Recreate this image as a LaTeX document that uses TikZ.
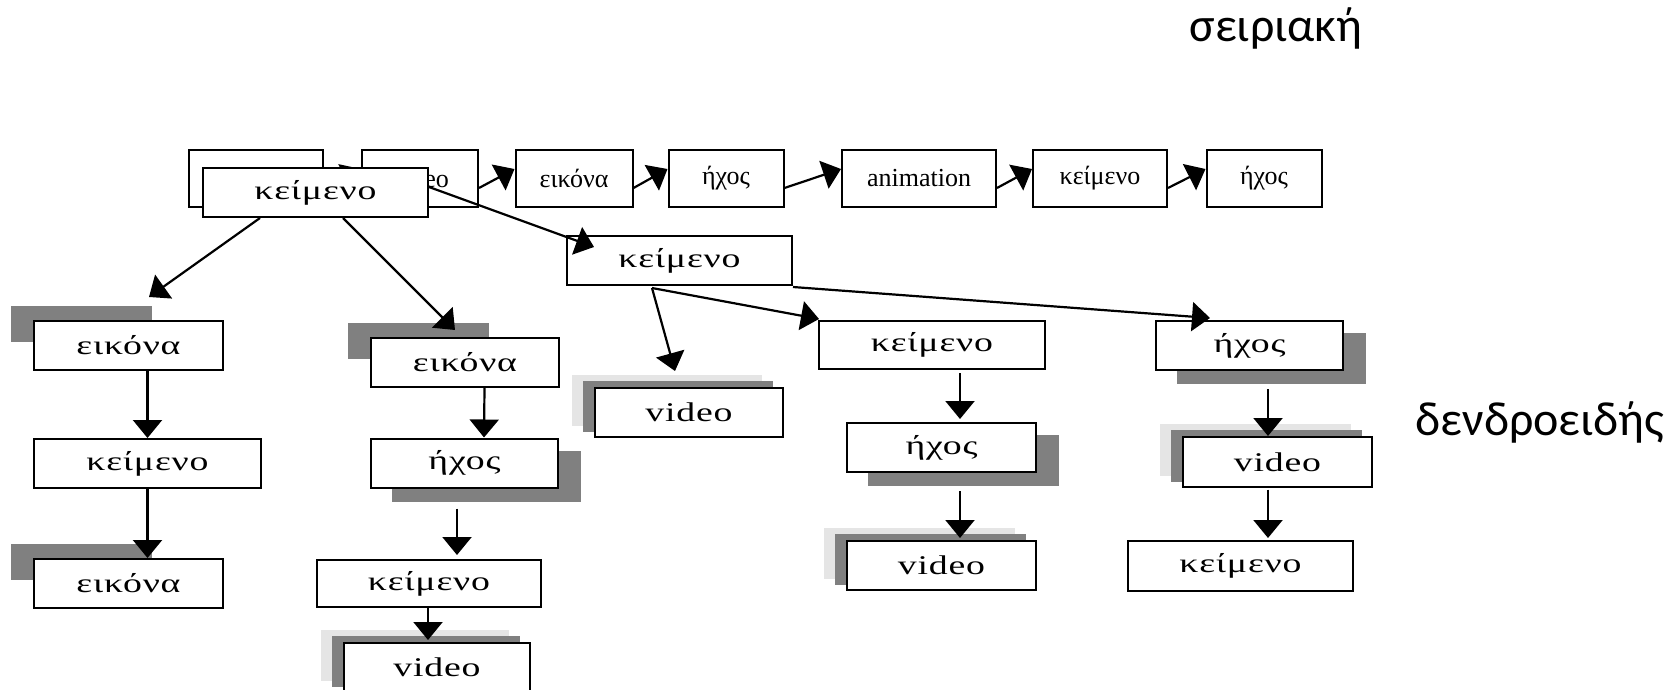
\documentclass[tikz,border=0pt]{standalone}
\usepackage{fontspec}
\setmainfont{Liberation Serif}
\newfontfamily\treefont[FakeStretch=1.4,LetterSpace=3]{Liberation Serif}
\newfontfamily\labelfont{Carlito}
\usetikzlibrary{arrows.meta,backgrounds,calc}

\begin{document}
\begin{tikzpicture}[x=1pt,y=-1pt,
  box/.style={draw=black, line width=2pt, fill=white, inner sep=0pt, minimum height=49pt},
  serialbox/.style={box, minimum height=57pt, font=\fontsize{26}{30}\selectfont},
  treebox/.style={box, font=\treefont\fontsize{27}{32}\selectfont},
  arr/.style={line width=2.2pt, -{Triangle[length=18pt,width=29pt]}},
  darkshade/.style={fill=black!50},
  lightshade/.style={fill=black!10},
  caption/.style={font=\labelfont\fontsize{48}{56}\selectfont, anchor=base, inner sep=0pt}]

\useasboundingbox (0,0) rectangle (1679,690);

% serial chain
\node[serialbox, minimum width=134pt] (s1) at (256,178.5) {};
\node[serialbox, minimum width=116pt] (s2) at (420,178.5) {video};
\node[serialbox, minimum width=117pt] (s3) at (574,178.5) {εικόνα};
\node[serialbox, minimum width=115pt] (s4) at (726,178.5) {ήχος};
\node[serialbox, minimum width=154pt] (s5) at (919,178.5) {animation};
\node[serialbox, minimum width=134pt] (s6) at (1100,178.5) {κείμενο};
\node[serialbox, minimum width=115pt] (s7) at (1264,178.5) {ήχος};
\foreach \a/\b in {s1/s2,s2/s3,s3/s4,s4/s5,s5/s6,s6/s7}
  \draw[arr] ([yshift=-9.5pt]\a.east) -- ([yshift=9.5pt]\b.west);

% tree
\node[treebox, minimum width=225pt] (root) at (315.5,192.5) {κείμενο};
\node[treebox, minimum width=225pt] (k2) at (679.5,260.5) {κείμενο};

\node[treebox, minimum width=189pt] (l1) at (128.5,345.5) {εικόνα};
\node[treebox, minimum width=227pt] (l2) at (147.5,463.5) {κείμενο};
\node[treebox, minimum width=189pt] (l3) at (128.5,583.5) {εικόνα};

\node[treebox, minimum width=188pt] (m1) at (465,362.5) {εικόνα};
\node[treebox, minimum width=187pt] (m2) at (464.5,463) {ήχος};
\node[treebox, minimum width=224pt, minimum height=47pt] (m3) at (429,583.5) {κείμενο};
\node[treebox, minimum width=186pt] (m4) at (437,667.5) {video};

\node[treebox, minimum width=188pt] (v1) at (689,412.5) {video};

\node[treebox, minimum width=226pt, minimum height=48pt] (k3) at (932,345) {κείμενο};
\node[treebox, minimum width=189pt] (h2) at (941.5,447.5) {ήχος};
\node[treebox, minimum width=189pt] (v3) at (941.5,565.5) {video};

\node[treebox, minimum width=187pt] (h) at (1249.5,345.5) {ήχος};
\node[treebox, minimum width=189pt, minimum height=50pt] (v2) at (1277.5,462) {video};
\node[treebox, minimum width=225pt, minimum height=50pt] (k4) at (1240.5,566) {κείμενο};

% white page, then the shadows behind the boxes
\begin{scope}[on background layer]
  \fill[white] (0,0) rectangle (1679,690);
  \foreach \n in {l1,l3,m1}
    \fill[darkshade] ([shift={(-22,-14)}]\n.north west) rectangle ++(141,36);
  \foreach \n in {m2,h2,h}
    \fill[darkshade] ([shift={(22,13)}]\n.north west) rectangle ([shift={(22,13)}]\n.south east);
  \foreach \n in {v1,v2,v3,m4} {
    \fill[lightshade] ([shift={(-22,-12)}]\n.north west) rectangle ([shift={(-22,-12)}]\n.south east);
    \fill[darkshade] ([shift={(-11,-6)}]\n.north west) rectangle ([shift={(-11,-6)}]\n.south east);
  }
\end{scope}

% tree connectors
\draw[arr] ([shift={(-55.5,0)}]root.south) -- ([shift={(20.5,-23)}]l1.north);
\draw[arr] ([shift={(27.5,0)}]root.south) -- ([shift={(-10,-7)}]m1.north);
\draw[arr] ([shift={(0,-5.5)}]root.east) -- ([shift={(28,12)}]k2.north west);

\draw[arr] (l1.south -| l2.north) -- (l2.north);
\draw[arr] (l2.south) -- (l3.north -| l2.south);

\draw[arr] ([xshift=19.5pt]m1.south) -- ([xshift=19.5pt]m2.north);
\draw[arr] ([shift={(-7.5,20)}]m2.south) -- ([shift={(28,-4)}]m3.north);
\draw[arr] ([xshift=-1pt]m3.south) -- ([shift={(-9,-2)}]m4.north);

\draw[arr] ([shift={(-27.5,2)}]k2.south) -- ([shift={(-14,-16)}]v1.north);
\draw[arr] ([shift={(-27.5,2)}]k2.south) -- ([shift={(1,-1)}]k3.north west);
\draw[arr] ([shift={(0,1)}]k2.south east) -- ([shift={(55,-2)}]h.north west);

\draw[arr] ([shift={(28,3)}]k3.south) -- ([shift={(18.5,-3)}]h2.north);
\draw[arr] ([shift={(18.5,18)}]h2.south) -- ([shift={(18.5,-2)}]v3.north);

\draw[arr] ([shift={(18.5,18)}]h.south) -- ([shift={(-9.5,0)}]v2.north);
\draw[arr] ([shift={(-9.5,1.5)}]v2.south) -- ([shift={(27.5,-2)}]k4.north);

% captions
\node[caption] (serial) at (1276,42) {σειριακή};
\node[caption] (tree) at (1540,435) {δενδροειδής};
\end{tikzpicture}
\end{document}
